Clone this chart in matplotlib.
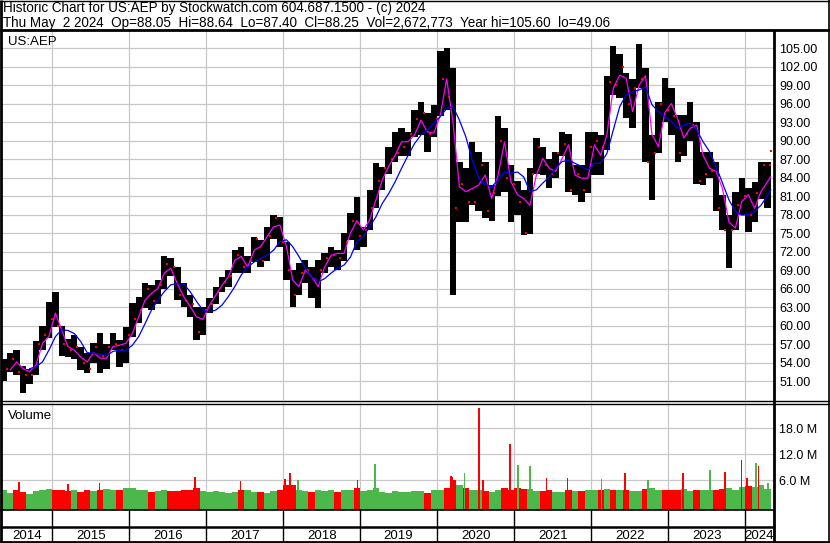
import numpy as np
import pandas as pd
import matplotlib
matplotlib.use('Agg')
import matplotlib.pyplot as plt
import matplotlib.dates as mdates

plt.rcParams['font.family'] = ['Liberation Sans', 'DejaVu Sans']

# monthly values, May 2014 .. May 2024
first_month = '2014-05-01'
last_day = '2024-05-02'

high = [54.5, 55.5, 56.0, 53.5, 53.0, 57.5, 60.0, 63.8,
        65.5, 60.0, 57.8, 58.4, 56.5, 55.5, 57.2, 58.8, 57.0, 58.8, 57.7, 59.8,
        63.6, 64.6, 66.9, 66.5, 67.4, 71.3, 71.0, 69.5, 66.9, 65.0, 63.0, 63.0,
        64.5, 66.2, 67.9, 69.0, 72.2, 72.7, 71.2, 74.4, 73.9, 76.0, 78.0, 77.6,
        73.5, 69.0, 70.1, 70.6, 69.5, 70.6, 71.7, 72.7, 72.2, 75.0, 78.2, 80.8,
        76.0, 82.0, 86.3, 85.7, 89.0, 91.4, 92.0, 91.4, 95.0, 96.2, 94.5, 95.7,
        104.5, 105.0, 101.8, 86.5, 85.5, 89.8, 88.1, 86.5, 82.8, 94.0, 92.0, 86.0,
        83.5, 82.0, 85.5, 90.4, 89.0, 87.0, 88.1, 91.4, 91.0, 86.0, 86.0, 91.4,
        91.4, 90.9, 100.5, 105.3, 104.0, 101.0, 100.0, 105.6, 101.8, 90.9, 96.2, 100.1,
        98.5, 94.1, 94.1, 96.2, 93.0, 88.1, 88.1, 86.5, 81.2, 77.9, 81.7, 83.9,
        82.3, 83.3, 86.5, 86.5, 89.4]

low = [51.0, 52.5, 52.0, 49.1, 50.5, 52.0, 56.0, 58.0,
       59.8, 55.0, 54.9, 54.6, 52.8, 52.3, 54.0, 52.3, 53.0, 56.0, 53.3, 54.0,
       58.1, 60.4, 62.8, 62.5, 63.5, 66.0, 68.0, 64.2, 63.0, 61.4, 57.7, 58.5,
       62.0, 63.5, 65.5, 66.2, 68.5, 68.5, 68.5, 70.3, 69.5, 70.5, 74.0, 72.8,
       67.4, 63.0, 65.0, 66.9, 64.5, 62.9, 68.5, 69.5, 69.0, 70.5, 73.9, 72.2,
       72.8, 75.5, 79.0, 82.0, 84.5, 86.5, 87.5, 87.5, 90.5, 90.9, 88.1, 90.5,
       94.0, 95.0, 65.0, 76.8, 76.8, 79.5, 78.5, 77.4, 77.0, 81.0, 81.6, 76.8,
       77.9, 74.7, 74.8, 84.5, 84.4, 82.3, 84.0, 87.5, 81.7, 81.2, 80.1, 81.5,
       84.4, 84.4, 88.5, 97.4, 96.9, 93.6, 92.0, 98.5, 86.5, 80.4, 88.0, 93.0,
       90.9, 86.5, 87.5, 90.0, 83.0, 82.8, 84.0, 78.5, 75.5, 69.3, 75.5, 77.9,
       75.2, 76.8, 80.5, 79.0, 86.5]

close = [53.0, 54.5, 52.5, 52.0, 52.0, 57.0, 58.5, 61.0,
         60.0, 57.0, 56.0, 56.5, 54.0, 53.0, 56.5, 55.0, 56.5, 57.0, 56.0, 58.5,
         61.0, 62.5, 66.0, 64.0, 66.5, 70.0, 69.5, 65.0, 64.0, 63.5, 59.0, 62.5,
         63.5, 65.5, 67.0, 68.0, 71.5, 69.5, 70.5, 74.0, 70.5, 74.5, 77.5, 73.5,
         69.0, 65.0, 68.5, 69.0, 67.5, 69.0, 71.0, 71.5, 71.0, 73.5, 77.0, 74.5,
         75.5, 79.0, 83.5, 85.5, 87.0, 88.0, 89.0, 91.0, 93.5, 94.5, 91.0, 93.5,
         100.0, 97.0, 79.0, 83.0, 80.0, 80.0, 86.0, 78.5, 81.5, 90.0, 84.0, 83.0,
         80.0, 75.0, 84.5, 89.0, 86.0, 84.5, 88.0, 89.5, 82.0, 84.5, 82.0, 89.0,
         90.0, 89.0, 99.5, 99.0, 102.0, 96.0, 98.5, 100.0, 86.5, 88.0, 96.0, 95.0,
         94.0, 88.0, 91.0, 92.5, 83.5, 84.5, 85.0, 79.0, 75.5, 75.5, 79.5, 81.0,
         78.0, 81.5, 86.0, 86.0, 88.25]

ma_fast = [np.nan, 52.8, 54.1, 53.0, 52.5, 53.6, 57.1, 58.2,
           62.0, 59.3, 56.6, 56.0, 54.9, 54.1, 55.6, 54.7, 54.7, 56.6, 56.8, 57.1,
           58.7, 61.4, 64.1, 65.2, 66.0, 68.5, 69.3, 66.8, 64.7, 63.1, 61.4, 61.0,
           63.3, 64.9, 66.5, 67.9, 70.6, 71.2, 69.5, 72.2, 72.8, 74.4, 76.0, 76.3,
           72.8, 67.4, 66.3, 69.0, 67.9, 66.3, 69.5, 71.4, 71.7, 71.7, 75.0, 77.0,
           75.5, 77.1, 80.3, 83.6, 85.8, 87.6, 89.8, 89.8, 90.9, 93.3, 91.4, 91.2,
           94.1, 100.0, 93.0, 82.5, 81.7, 82.2, 82.8, 84.4, 80.6, 84.4, 89.8, 83.3,
           81.2, 80.6, 79.5, 84.4, 87.1, 85.5, 85.0, 87.1, 89.3, 84.4, 83.9, 83.9,
           89.3, 87.6, 90.9, 98.5, 100.6, 100.1, 94.7, 99.0, 100.5, 91.0, 89.0, 94.5,
           96.0, 93.6, 90.4, 92.0, 92.5, 87.6, 85.5, 85.0, 82.2, 76.8, 75.8, 80.1,
           81.2, 79.0, 81.7, 83.3, 84.1]

ma_slow = [np.nan, np.nan, np.nan, np.nan, 53.0, 53.3, 54.1, 56.0,
           58.2, 59.3, 59.2, 58.7, 57.4, 55.6, 55.5, 55.4, 55.1, 55.8, 56.0, 56.0,
           56.8, 58.2, 60.3, 62.5, 64.1, 65.5, 66.6, 66.8, 66.7, 65.5, 63.9, 62.5,
           62.2, 62.5, 63.3, 64.7, 66.3, 68.2, 69.5, 70.3, 70.9, 71.4, 72.2, 73.6,
           73.9, 72.8, 71.2, 69.3, 67.9, 67.1, 67.6, 68.5, 69.3, 69.8, 71.1, 73.6,
           74.4, 76.0, 77.6, 79.8, 81.4, 83.3, 85.5, 87.6, 89.5, 90.9, 91.7, 92.8,
           93.9, 95.2, 95.5, 93.3, 90.6, 86.8, 83.9, 82.8, 82.5, 83.6, 84.9, 84.7,
           84.9, 84.1, 81.7, 82.0, 83.1, 84.1, 85.5, 86.6, 86.8, 86.3, 85.8, 85.2,
           86.3, 86.3, 87.9, 91.7, 95.5, 97.4, 97.9, 98.2, 98.7, 95.8, 94.7, 93.9,
           93.1, 92.0, 92.5, 92.8, 91.7, 89.8, 88.2, 85.8, 83.1, 80.4, 78.5, 77.9,
           78.0, 78.5, 79.5, 81.0, 82.0]

# volume in millions
volume = [3.8, 3.0, 3.6, 3.2, 2.8, 3.4, 3.6, 4.0,
          3.8, 3.6, 3.5, 3.8, 3.2, 3.6, 3.4, 3.8, 3.9, 3.6, 3.8, 4.2,
          4.2, 3.8, 3.6, 3.2, 3.4, 3.8, 3.4, 3.5, 3.6, 3.6, 4.2, 3.5,
          3.2, 3.4, 3.3, 3.0, 3.2, 3.8, 3.6, 3.3, 3.2, 3.1, 3.4, 3.8,
          4.8, 4.8, 3.8, 3.5, 3.3, 3.8, 3.5, 3.6, 3.3, 3.6, 3.8, 4.2,
          3.5, 3.8, 4.2, 3.3, 3.1, 3.4, 3.2, 3.3, 3.5, 3.4, 3.1, 3.6,
          3.6, 4.2, 6.0, 4.8, 4.2, 3.8, 3.8, 3.4, 3.3, 3.6, 4.2, 3.6,
          4.2, 4.0, 4.0, 3.5, 3.4, 3.6, 3.2, 3.3, 3.6, 3.4, 3.5, 3.8,
          3.6, 3.8, 4.0, 3.6, 3.7, 3.8, 3.4, 3.5, 4.0, 4.2, 3.6, 3.8,
          3.6, 3.8, 4.0, 3.5, 3.8, 3.6, 3.7, 3.8, 3.9, 4.2, 3.8, 4.4,
          4.6, 4.4, 4.8, 4.0, 4.8]

spike_dates = ['2014-07-28', '2015-03-16', '2015-08-14', '2016-11-08', '2017-06-13',
               '2018-01-09', '2018-02-02', '2018-03-12', '2018-12-19', '2019-03-12',
               '2020-03-06', '2020-03-13', '2020-05-11', '2020-07-17', '2020-08-05',
               '2020-12-11', '2021-01-19', '2021-03-17', '2021-06-04', '2021-09-10',
               '2022-02-18', '2022-06-10', '2022-09-27', '2023-03-13', '2023-07-18',
               '2023-09-27', '2023-12-15', '2024-01-10', '2024-02-23', '2024-03-04',
               '2024-04-19']
spike_vol = [5.6, 5.1, 5.4, 6.6, 5.8, 6.3, 7.7, 6.0, 6.0, 9.7,
             7.0, 6.8, 7.7, 22.6, 6.0, 14.3, 9.5, 9.3, 6.4, 6.4,
             6.2, 7.7, 5.9, 7.7, 8.2, 7.9, 10.6, 6.4, 10.0, 9.2, 5.2]
spike_dir = ['r', 'r', 'r', 'r', 'r', 'r', 'r', 'g', 'r', 'g',
             'r', 'r', 'g', 'r', 'r', 'r', 'g', 'g', 'r', 'r',
             'g', 'r', 'g', 'r', 'g', 'r', 'r', 'r', 'g', 'r', 'g']

price_ticks = list(range(51, 106, 3))
vol_ticks = [6, 12, 18]

RED = '#ff0000'
GREEN = '#4cb84c'
GRID = '#c8c8c8'

high = np.array(high); low = np.array(low); close = np.array(close)
n = len(close)
starts = pd.date_range(first_month, periods=n, freq='MS')
ends = starts + pd.offsets.MonthBegin(1)
stop = pd.Timestamp(last_day) + pd.Timedelta(days=1)
ends = ends.where(ends <= stop, stop)
x0 = mdates.date2num(starts)
x1 = mdates.date2num(ends)
xm = (x0 + x1) / 2
xlim = (mdates.date2num(pd.Timestamp('2014-05-08')), mdates.date2num(pd.Timestamp('2024-05-15')))
years = pd.date_range('2014-01-01', '2025-01-01', freq='YS')
yx = mdates.date2num(years)
yx_in = yx[(yx > xlim[0]) & (yx < xlim[1])]

W, H = 830, 543
fig = plt.figure(figsize=(W / 100, H / 100), dpi=100)


def rect(l, t, r, b):
    return [l / W, 1 - b / H, (r - l) / W, (b - t) / H]


# price panel
ax = fig.add_axes(rect(2, 31, 773.5, 400))
ax.bar(x0, high - low, bottom=low, width=x1 - x0, align='edge', color='black', lw=0, zorder=2)
ax.plot(x1 - 2, close, 's', color=RED, ms=1.8, mew=0, zorder=3)
ax.plot(xm, ma_fast, color='#ff00ff', lw=0.9, zorder=4)
ax.plot(xm, ma_slow, color='#0000ff', lw=0.9, zorder=4)
ax.set_xticks(yx_in)
ax.set_xlim(xlim)
ax.set_ylim(47.92, 107.76)
ax.set_yticks(price_ticks)
ax.set_yticklabels(['%.2f' % p for p in price_ticks])
ax.yaxis.tick_right()
ax.tick_params(axis='both', length=0, labelsize=9, pad=4)
ax.tick_params(axis='x', labelbottom=False)
ax.grid(True, color=GRID, lw=0.9, zorder=0)
ax.set_axisbelow(True)
for s in ax.spines.values():
    s.set_visible(False)
ax.text(0.008, 0.97, 'US:AEP', transform=ax.transAxes, fontsize=9.5, va='center', ha='left')

# volume panel
av = fig.add_axes(rect(2, 403, 773.5, 510))
vlo, vhi = -0.92, 23.77
vcol = [GREEN] + [GREEN if close[i] >= close[i - 1] else RED for i in range(1, n)]
av.bar(x0, np.array(volume) - vlo, bottom=vlo, width=x1 - x0, align='edge', color=vcol, lw=0, zorder=2)
sx = mdates.date2num(pd.to_datetime(spike_dates))
av.bar(sx, np.array(spike_vol) - vlo, bottom=vlo, width=7,
       color=[GREEN if d == 'g' else RED for d in spike_dir], lw=0, zorder=3)
av.set_xticks(yx_in)
av.set_xlim(xlim)
av.set_ylim(vlo, vhi)
av.set_yticks(vol_ticks)
av.set_yticklabels(['%.1f M' % v for v in vol_ticks])
av.yaxis.tick_right()
av.tick_params(axis='both', length=0, labelsize=9, pad=4)
av.tick_params(axis='x', labelbottom=False)
av.grid(True, color=GRID, lw=0.9, zorder=0)
av.set_axisbelow(True)
for s in av.spines.values():
    s.set_visible(False)
av.text(0.008, 0.93, 'Volume', transform=av.transAxes, fontsize=9.5, va='top', ha='left')

# year strip
ay = fig.add_axes(rect(2, 510, 773.5, 542))
ay.set_xlim(xlim)
ay.set_ylim(0, 1)
ay.axis('off')
for yv in yx_in:
    ay.axvline(yv, color='black', lw=1)
for i in range(len(years) - 1):
    a = max(yx[i], xlim[0]); b = min(yx[i + 1], xlim[1])
    if b > a:
        ay.text((a + b) / 2, 0.2, str(years[i].year), ha='center', va='center', fontsize=9.5)

# frame and header
ov = fig.add_axes([0, 0, 1, 1], zorder=10)
ov.set_xlim(0, W)
ov.set_ylim(H, 0)
ov.axis('off')
ov.patch.set_alpha(0)
k = dict(color='black', solid_capstyle='butt')
ov.plot([0, W], [0.5, 0.5], lw=1, **k)
ov.plot([1, 1], [0, H], lw=2, **k)
ov.plot([828.5, 828.5], [0, H], lw=1.2, **k)
ov.plot([0, W], [30, 30], lw=2, **k)
ov.plot([774, 774], [30, H], lw=2, **k)
ov.plot([0, W], [400.5, 400.5], lw=1, **k)
ov.plot([0, W], [403.5, 403.5], lw=1, **k)
ov.plot([0, 774], [510, 510], lw=1.2, **k)
ov.plot([0, 774], [527, 527], lw=1.8, **k)
ov.plot([0, W], [542, 542], lw=2, **k)
ov.text(3, 8, 'Historic Chart for US:AEP by Stockwatch.com 604.687.1500 - (c) 2024',
        fontsize=9.75, va='center', ha='left')
ov.text(3, 22.5, 'Thu May  2 2024  Op=88.05  Hi=88.64  Lo=87.40  Cl=88.25  '
        'Vol=2,672,773  Year hi=105.60  lo=49.06', fontsize=9.75, va='center', ha='left')

fig.savefig('out.png', dpi=100)
